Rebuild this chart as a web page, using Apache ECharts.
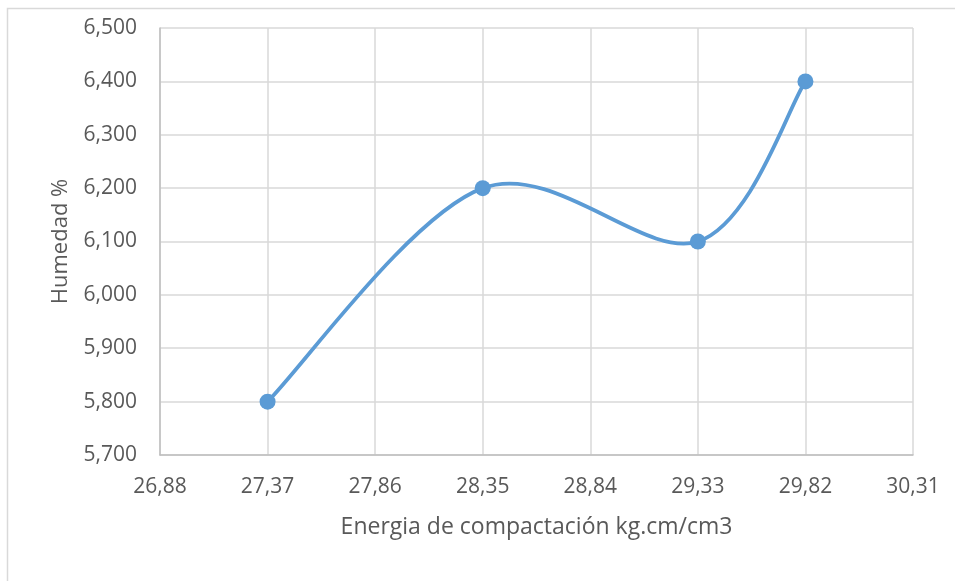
<!DOCTYPE html>
<html><head><meta charset="utf-8">
<script src="https://cdn.jsdelivr.net/npm/echarts@6/dist/echarts.min.js"></script>
<style>html,body{margin:0;padding:0;background:#fff}#c{width:955px;height:581px}</style>
</head><body><div id="c"></div>
<script>
const energia = [27.37, 28.35, 29.33, 29.82];
const humedad = [5.8, 6.2, 6.1, 6.4];
const xTitle = 'Energia de compactación kg.cm/cm3';
const yTitle = 'Humedad %';
const xMin = 26.88, xMax = 30.31, xStep = 0.49;
const yMin = 5.7, yMax = 6.5, yStep = 0.1;

const font = 'Open Sans, Liberation Sans, Arial, sans-serif';
const blue = '#5B9BD5';
const points = energia.map((x, i) => [x, humedad[i]]);

// Excel-style smoothed line: cubic Bezier segments with Catmull-Rom tangents (1/6)
function renderSegment(params, api) {
  const i = params.dataIndex;
  const n = points.length;
  if (i >= n - 1) return null;
  const P = k => api.coord(points[Math.max(0, Math.min(n - 1, k))]);
  const p0 = P(i - 1), p1 = P(i), p2 = P(i + 1), p3 = P(i + 2);
  return {
    type: 'bezierCurve',
    shape: {
      x1: p1[0], y1: p1[1], x2: p2[0], y2: p2[1],
      cpx1: p1[0] + (p2[0] - p0[0]) / 6, cpy1: p1[1] + (p2[1] - p0[1]) / 6,
      cpx2: p2[0] - (p3[0] - p1[0]) / 6, cpy2: p2[1] - (p3[1] - p1[1]) / 6
    },
    style: {stroke: blue, lineWidth: 3.75, fill: null, lineCap: 'round'}
  };
}

const chart = echarts.init(document.getElementById('c'), null, {renderer: 'canvas'});
chart.setOption({
  animation: false,
  graphic: [{type: 'rect', shape: {x: 7.5, y: 8.5, width: 2000, height: 2000}, style: {fill: 'none', stroke: '#D9D9D9', lineWidth: 1.5}, z: -1}],
  grid: {left: 160, right: 42, top: 28, bottom: 126},
  xAxis: {
    type: 'value', min: xMin, max: xMax, interval: xStep,
    name: xTitle, nameLocation: 'middle', nameGap: 61,
    nameTextStyle: {color: '#595959', fontSize: 23, fontFamily: font},
    axisLine: {show: true, lineStyle: {color: '#BFBFBF', width: 1.5}},
    axisTick: {show: false},
    splitLine: {show: true, lineStyle: {color: '#D9D9D9', width: 1.5}},
    axisLabel: {color: '#595959', fontSize: 21, fontFamily: font, margin: 22,
      formatter: v => v.toFixed(2).replace('.', ',')}
  },
  yAxis: {
    type: 'value', min: yMin, max: yMax, interval: yStep,
    name: yTitle, nameLocation: 'middle', nameGap: 88, nameRotate: 90,
    nameTextStyle: {color: '#595959', fontSize: 22, fontFamily: font},
    axisLine: {show: true, lineStyle: {color: '#BFBFBF', width: 1.5}},
    axisTick: {show: false},
    splitLine: {show: true, lineStyle: {color: '#D9D9D9', width: 1.5}},
    axisLabel: {color: '#595959', fontSize: 21, fontFamily: font, margin: 23,
      formatter: v => v.toFixed(3).replace('.', ',')}
  },
  series: [{
    type: 'custom', renderItem: renderSegment, data: points,
    encode: {x: 0, y: 1}, z: 2
  }, {
    type: 'scatter', data: points,
    symbol: 'circle', symbolSize: 16,
    itemStyle: {color: blue, opacity: 1}, z: 3
  }]
});
</script></body></html>
